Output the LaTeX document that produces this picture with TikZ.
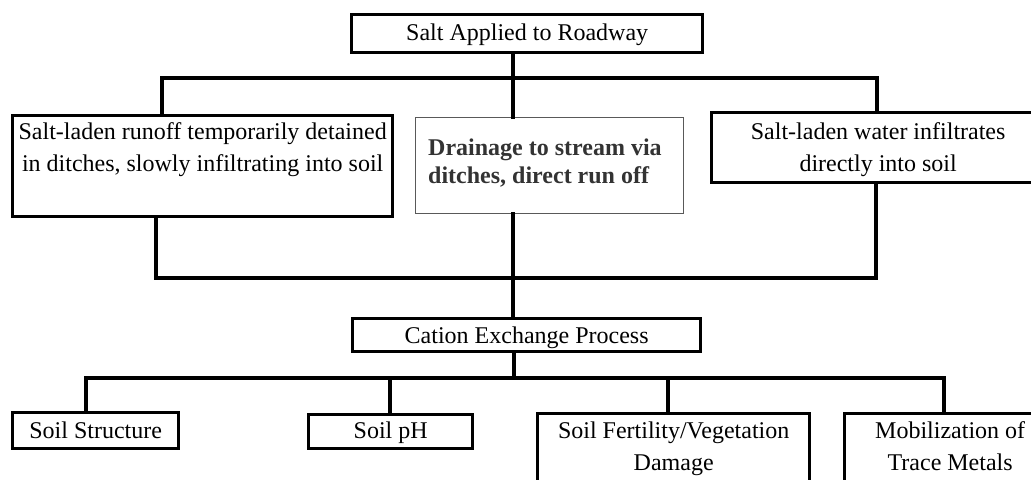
\documentclass[tikz,border=0pt]{standalone}
\usepackage{fontspec}
\setmainfont{Liberation Serif}
\newcommand\bxt[4]{\parbox[c][#2][t]{#1}{\centering\rule{0pt}{#3}#4\par}}
\begin{document}
\begin{tikzpicture}[x=0.75pt,y=-0.75pt,
  box/.style={draw=black, line width=2.5pt, inner sep=0pt, rectangle, anchor=north west,
    font=\fontsize{18}{24}\selectfont},
  thinbox/.style={draw=black!65, line width=0.8pt, inner sep=0pt, rectangle, anchor=north west,
    font=\fontsize{18}{21}\selectfont\bfseries, text=black!80},
  conn/.style={draw=black, line width=2.5pt, line join=miter, line cap=rect},
  heavy/.style={conn, line width=3.5pt}]
\useasboundingbox (0,0) rectangle (1031,479);
% boxes
\node[box] (top) at (350,13) {\bxt{263.25pt}{28.5pt}{19.5pt}{Salt Applied to Roadway}};
\node[box] (L) at (11,114) {\bxt{285pt}{75.75pt}{18pt}{Salt-laden runoff temporarily detained\\ in ditches, slowly infiltrating into soil}};
\node[thinbox] (M) at (415,117) {\parbox[c][72pt][t]{201pt}{\raggedright\hspace*{9.5pt}\rule{0pt}{28.5pt}Drainage to stream via\\\hspace*{9.5pt}ditches, direct run off\par}};
\node[box] (R) at (710,111) {\bxt{249.75pt}{52.5pt}{20.25pt}{Salt-laden water infiltrates\\ directly into soil}};
\node[box] (C) at (351,317) {\bxt{261pt}{24.75pt}{18.5pt}{Cation Exchange Process}};
\node[box] (SS) at (11,411) {\bxt{124.5pt}{27pt}{19.5pt}{Soil Structure}};
\node[box] (PH) at (307,413) {\bxt{123pt}{25.5pt}{18pt}{Soil pH}};
\node[box] (SF) at (536,412) {\bxt{204pt}{54pt}{18.75pt}{Soil Fertility/Vegetation\\ Damage}};
\node[box] (MT) at (843,412) {\bxt{158.25pt}{54pt}{18.75pt}{Mobilization of\\ Trace Metals}};
% junction points
\coordinate (j0) at (513,78);
\coordinate (ja) at (162,78);
\coordinate (jc) at (672,78);
\coordinate (jb) at (877,78);
\coordinate (k0) at (513,278);
\coordinate (k1) at (156,278);
\coordinate (k2) at (876,278);
\coordinate (m0) at (514,378);
\coordinate (m1) at (86,378);
\coordinate (m2) at (390,378);
\coordinate (m3) at (668,378);
\coordinate (m4) at (944,378);
% upper connectors
\draw[conn] (top.south -| j0) -- (M.north -| j0);
\draw[conn] (L.north -| ja) -- (ja) -- (jc);
\draw[heavy] (jc) -- (jb) -- (R.north -| jb);
% middle connectors
\draw[heavy] (L.south -| k1) -- (k1);
\draw[conn] (k1) -- (k2) -- (R.south -| k2);
\draw[conn] (M.south -| k0) -- (C.north -| k0);
% lower connectors
\draw[conn] (C.south -| m0) -- (m0);
\draw[conn] (SS.north -| m1) -- (m1) -- (m4);
\draw[heavy] (m4) -- (MT.north -| m4);
\draw[heavy] (m2) -- (PH.north -| m2);
\draw[conn] (m3) -- (SF.north -| m3);
\end{tikzpicture}
\end{document}
